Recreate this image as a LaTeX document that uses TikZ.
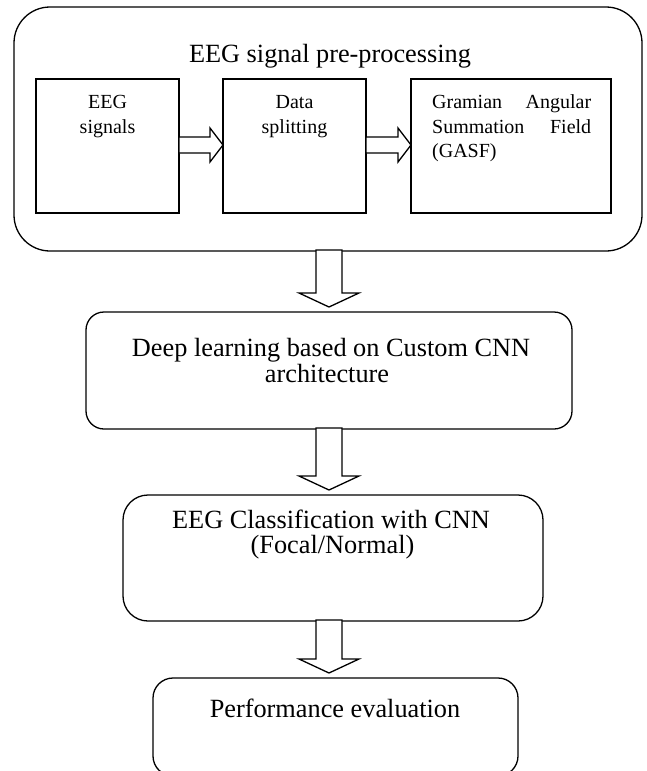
\documentclass[tikz,border=0pt]{standalone}
\usepackage{fontspec}
\setmainfont{Liberation Serif}
\usetikzlibrary{calc}
\tikzset{
  lw/.style={line width=1.3pt},
  bigbox/.style={lw, draw, inner sep=0pt, outer sep=0pt},
  sqbox/.style={lw, draw, inner sep=0pt, outer sep=0pt},
  bigtxt/.style={font=\fontsize{26.3}{26}\selectfont, anchor=base, inner sep=0pt},
  smalltxt/.style={font=\fontsize{20}{25}\selectfont, anchor=base, inner sep=0pt},
  blockarrow/.style={lw, draw, fill=white, line join=miter},
}
\begin{document}
\begin{tikzpicture}[x=1pt, y=-1pt]
\clip (0,0) rectangle (647,771);
\useasboundingbox (0,0) rectangle (647,771);
\fill[white] (0,0) rectangle (647,771);

% outer pre-processing frame
\node[bigbox, rounded corners=36pt, minimum width=628pt, minimum height=244pt] (outer) at (328,129) {};
\node[bigtxt] (title) at (330,62) {EEG signal pre-processing};

% inner boxes
\node[sqbox, minimum width=143pt, minimum height=134pt] (b1) at (107.5,146) {};
\node[sqbox, minimum width=143pt, minimum height=134pt] (b2) at (294.5,146) {};
\node[sqbox, minimum width=200pt, minimum height=134pt] (b3) at (511,146) {};

\node[smalltxt] (b1a) at (107.5,108) {EEG};
\node[smalltxt] (b1b) at (107.5,133) {signals};
\node[smalltxt] (b2a) at (294.5,108) {Data};
\node[smalltxt] (b2b) at (294.5,133) {splitting};
\node[smalltxt, anchor=base west] (b3a) at (432,108) {\makebox[159pt][s]{Gramian\hfill Angular}};
\node[smalltxt, anchor=base west] (b3b) at (432,133) {\makebox[159pt][s]{Summation\hfill Field}};
\node[smalltxt, anchor=base west] (b3c) at (432,157) {(GASF)};

% lower boxes
\node[bigbox, rounded corners=18pt, minimum width=486pt, minimum height=117pt] (dl) at (329,370.5) {};
\node[bigtxt] (dla) at (331,356) {Deep learning based on Custom CNN};
\node[bigtxt] (dlb) at (327,382) {architecture};

\node[bigbox, rounded corners=25pt, minimum width=420pt, minimum height=126pt] (cls) at (333,558) {};
\node[bigtxt] (clsa) at (331,528) {EEG Classification with CNN};
\node[bigtxt] (clsb) at (332.5,553) {(Focal/Normal)};

\node[bigbox, rounded corners=20pt, minimum width=365pt, minimum height=98pt] (perf) at (335.5,727) {};
\node[bigtxt] (perfa) at (335,717) {Performance evaluation};

% horizontal block arrows
\foreach \s/\t in {b1/b2, b2/b3}{
  \draw[blockarrow] let \p1=(\s.east), \p2=(\t.west) in
    (\x1,-137pt) -- (\x2-13pt,-137pt) -- (\x2-13pt,-128pt) -- (\x2,-145pt)
    -- (\x2-13pt,-162pt) -- (\x2-13pt,-153pt) -- (\x1,-153pt) -- cycle;
}

% vertical block arrows
\foreach \s/\t in {outer/dl, dl/cls, cls/perf}{
  \draw[blockarrow] let \p1=(\s.south), \p2=(\t.north) in
    (316pt,\y1+1pt) -- (316pt,\y2+19pt) -- (299pt,\y2+19pt) -- (329pt,\y2+5pt)
    -- (359pt,\y2+19pt) -- (342pt,\y2+19pt) -- (342pt,\y1+1pt) -- cycle;
}
\end{tikzpicture}
\end{document}
